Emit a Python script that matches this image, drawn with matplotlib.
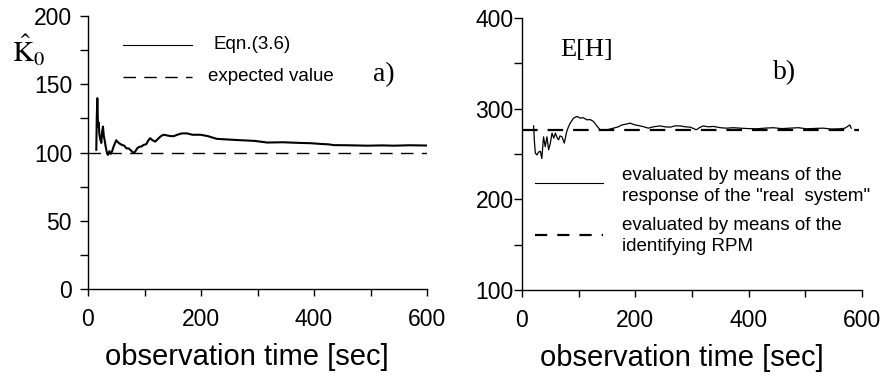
import matplotlib
matplotlib.use("Agg")
import matplotlib.pyplot as plt
from matplotlib.ticker import MultipleLocator

plt.rcParams['font.family'] = ['Liberation Sans', 'DejaVu Sans']
plt.rcParams['mathtext.fontset'] = 'stix'

# ---- data: panel a) ----
t_a = [14.7, 15.5, 16.5, 17.7, 19, 20, 21.5, 23.6, 25, 26.5, 28, 29.5, 31, 32.4, 34, 35.4,
       38, 40, 42.5, 45, 48, 50, 53, 56, 60, 64, 68, 72, 76, 81, 84, 87, 90, 95, 98.5,
       103, 107, 110, 114, 119, 124, 129, 134, 140, 146, 152, 158, 166, 175, 185, 199,
       212, 228, 248, 270, 295, 317, 345, 376, 395, 411, 425, 435, 460, 494, 520, 541,
       570, 600]
k0_est = [102, 125, 139.8, 119, 122, 114, 110, 107, 115, 119, 112, 109, 105, 102, 99, 98.3,
          101, 99, 100.7, 104, 107, 109, 107.5, 106.5, 105.6, 105, 103, 103, 101.5, 99.5,
          101, 103, 104, 104.5, 105.6, 106, 109, 110.5, 109, 108, 110, 112, 113, 112.5,
          112, 112, 113, 114, 114, 113, 113, 112, 110, 109.5, 109, 108.5, 107.3, 107.5,
          107, 106.8, 106.3, 106, 105.4, 105.3, 105, 105.2, 105, 105.3, 105.1]
t_expected_a = [0, 600]
k0_expected = [100, 100]

# ---- data: panel b) ----
t_b = [20.5, 21.7, 23.5, 26.4, 29, 32.3, 35, 38, 41, 44, 47, 50, 53, 56, 59, 62, 64.6, 67,
       70.5, 74.6, 79, 82, 85, 91, 97, 103, 108, 114.5, 120, 126, 132, 138, 144, 150,
       161.5, 170, 176, 184, 191, 200, 208.5, 215, 223, 232, 244, 252, 261.6, 270, 279,
       288, 297, 303, 307.5, 313, 320, 328, 338, 350, 361, 373, 385, 400, 414, 428,
       443.5, 458, 473, 488, 502, 517, 531.5, 546, 561, 570, 578.5, 581]
eh_real = [281, 265.6, 251, 249, 252, 253, 245, 269, 258, 269, 254.6, 262, 273, 267.5, 273,
           268, 265.6, 270, 269, 262, 275, 280, 284, 289.6, 291.4, 289.6, 290, 287.7, 288,
           286, 281, 276.7, 277, 276.7, 278.5, 280, 282, 283, 284, 282, 281, 280, 278.5,
           280, 281, 280, 279.6, 281, 281, 280, 279.6, 278, 276.7, 279, 281, 280, 280.4,
           279, 278.5, 279, 278.5, 278, 277.8, 278.5, 279, 278, 278.5, 279, 277.8, 278.2,
           278.5, 277.5, 277.8, 278.5, 282, 278.5]
t_expected_b = [0, 594]
eh_rpm = [277, 277]

x_ticks = [0, 200, 400, 600]

fig = plt.figure(figsize=(8.83, 3.76), dpi=100)
axA = fig.add_axes([88/883, (376-289)/376, 339/883, 273/376])
axB = fig.add_axes([522/883, (376-290)/376, 340/883, 272/376])

for ax in (axA, axB):
    for s in ('top', 'right'):
        ax.spines[s].set_visible(False)
    for s in ('left', 'bottom'):
        ax.spines[s].set_linewidth(1.0)
    ax.set_xlim(0, 600)
    ax.set_xticks(x_ticks)
    ax.xaxis.set_minor_locator(MultipleLocator(100))
    ax.tick_params(axis='x', which='both', direction='out', length=5, width=1.0,
                   labelsize=16.5, pad=9)
    ax.set_xlabel('observation time [sec]', fontsize=21)
    ax.xaxis.set_label_coords(0.47, -0.25)
    ax.xaxis.label.set_va('center')

# panel a
axA.plot(t_a, k0_est, color='black', lw=1.5)
axA.plot(t_expected_a, k0_expected, color='black', lw=1.0, dashes=(9, 6))
axA.set_ylim(0, 200)
axA.set_yticks([0, 50, 100, 150, 200])
axA.yaxis.set_minor_locator(MultipleLocator(25))
axA.tick_params(axis='y', which='both', direction='out', length=5.5, width=1.0,
                labelsize=16.5, pad=6)

axA.plot([0.103, 0.307], [0.894, 0.894], transform=axA.transAxes, color='black', lw=0.8,
         clip_on=False)
axA.text(0.369, 0.894, 'Eqn.(3.6)', transform=axA.transAxes, fontsize=13.5, va='center')
axA.plot([0.103, 0.307], [0.777, 0.777], transform=axA.transAxes, color='black', lw=1.0,
         dashes=(9, 6), clip_on=False)
axA.text(0.354, 0.777, 'expected value', transform=axA.transAxes, fontsize=13.5, va='center')
axA.text(0.841, 0.784, 'a)', transform=axA.transAxes, fontsize=20, va='center',
         family='Liberation Serif')
fig.text(12/883, (376-62)/376, r'$\hat{\mathrm{K}}_{0}$', fontsize=21, va='baseline')

# panel b
axB.plot(t_b, eh_real, color='black', lw=0.9)
axB.plot(t_expected_b, eh_rpm, color='black', lw=1.6, dashes=(7, 4.5))
axB.set_ylim(100, 400)
axB.set_yticks([100, 200, 300, 400])
axB.yaxis.set_minor_locator(MultipleLocator(50))
axB.tick_params(axis='y', which='both', direction='out', length=5.5, width=1.0,
                labelsize=16.5, pad=0.5)

axB.plot([0.038, 0.238], [0.393, 0.393], transform=axB.transAxes, color='black', lw=0.8,
         clip_on=False)
axB.text(0.294, 0.382, 'evaluated by means of the\nresponse of the "real  system"',
         transform=axB.transAxes, fontsize=13.5, va='center', linespacing=1.3)
axB.plot([0.038, 0.238], [0.202, 0.202], transform=axB.transAxes, color='black', lw=1.6,
         dashes=(5.5, 4.5), clip_on=False)
axB.text(0.294, 0.199, 'evaluated by means of the\nidentifying RPM',
         transform=axB.transAxes, fontsize=13.5, va='center', linespacing=1.3)
axB.text(0.112, 0.882, 'E[H]', transform=axB.transAxes, fontsize=19, va='center',
         family='Liberation Serif')
axB.text(0.738, 0.798, 'b)', transform=axB.transAxes, fontsize=20, va='center',
         family='Liberation Serif')

fig.savefig('out.png', dpi=100)
